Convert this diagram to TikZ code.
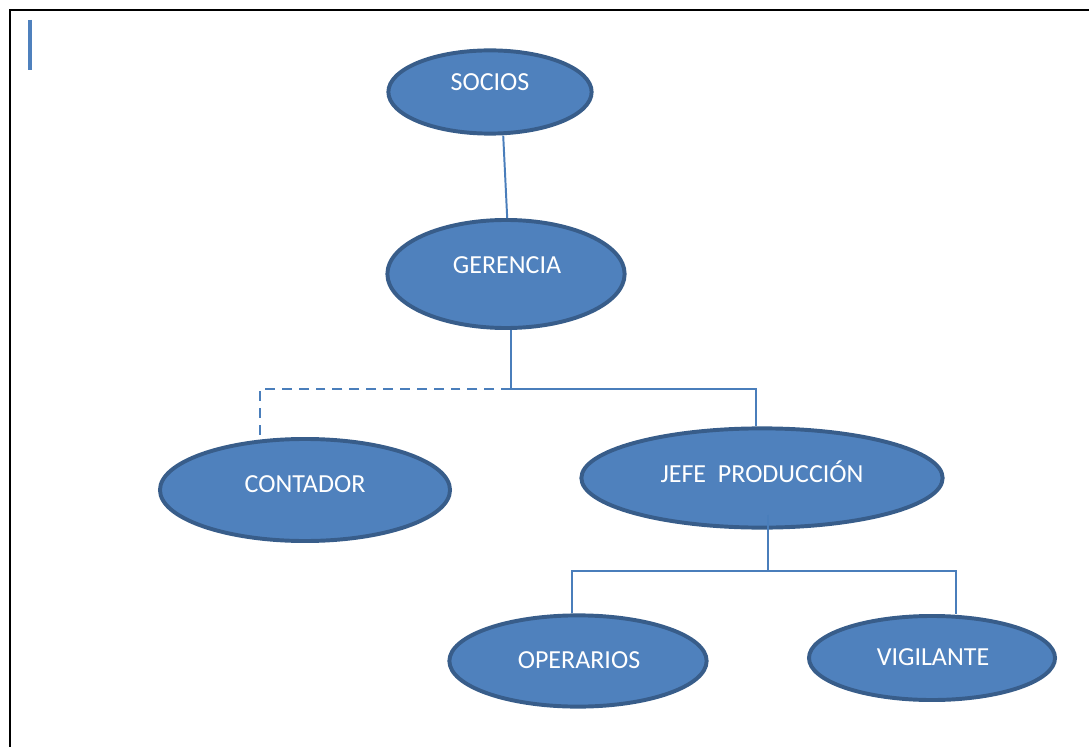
\documentclass[tikz,border=0pt]{standalone}
\usepackage{fontspec}
\setmainfont{Carlito}
\usepackage{tikz}
\usetikzlibrary{shapes.geometric}

\definecolor{orgfill}{RGB}{79,129,189}
\definecolor{orgdraw}{RGB}{56,93,138}
\definecolor{orgline}{RGB}{74,126,187}

\begin{document}
\begin{tikzpicture}[x=0.025cm, y=-0.025cm,
		org/.style={ellipse, fill=orgfill, draw=orgdraw, line width=2.8pt, inner sep=0pt},
		lbl/.style={text=white, inner sep=0pt, font=\fontsize{18.5}{20}\selectfont},
		link/.style={draw=orgline, line width=1.4pt}]
		\useasboundingbox (0,0) rectangle (1089,747);
		% --- Marco de la página ---
		\draw[line width=1.5pt] (10,747) -- (10,10) -- (1089,10);
		\draw[orgfill, line width=2.2pt] (30,20) -- (30,70);

		% --- Elipses del organigrama ---
		\node[org, minimum width=5.08cm, minimum height=2.08cm] (socios)    at (490,92)  {};
		\node[org, minimum width=5.93cm, minimum height=2.70cm] (gerencia)  at (506,274) {};
		\node[org, minimum width=7.25cm, minimum height=2.55cm] (contador)  at (305,490) {};
		\node[org, minimum width=9.03cm, minimum height=2.48cm] (jefe)      at (762,478) {};
		\node[org, minimum width=6.43cm, minimum height=2.28cm] (operarios) at (578,661) {};
		\node[org, minimum width=6.15cm, minimum height=2.10cm] (vigilante) at (932,658) {};

		% --- Textos ---
		\node[lbl] (socios-t)    at (490,82)  {SOCIOS};
		\node[lbl] (gerencia-t)  at (507,265) {GERENCIA};
		\node[lbl] (contador-t)  at (305,484) {CONTADOR};
		\node[lbl] (jefe-t)      at (762,472) {JEFE~ PRODUCCIÓN};
		\node[lbl] (operarios-t) at (579,660) {OPERARIOS};
		\node[lbl] (vigilante-t) at (933,657) {VIGILANTE};

		% --- Conectores ---
		\coordinate (g-mid) at (511,389);
		\coordinate (j-mid) at (768,571);
		\draw[link] ([xshift=0.33cm]socios.south) -- ([xshift=0.03cm]gerencia.north);
		\draw[link] (gerencia.south -| g-mid) -- (g-mid) -| ([xshift=-0.15cm]jefe.north);
		\draw[link, dash pattern=on 7pt off 5pt] (g-mid) -| ([xshift=-1.12cm]contador.north);
		\draw[link] ([yshift=0.37cm]jefe.south -| j-mid) -- (j-mid);
		\draw[link] (j-mid) -| ([xshift=-0.15cm]operarios.north);
		\draw[link] (j-mid) -| ([xshift=0.6cm]vigilante.north);
	\end{tikzpicture}
\end{document}
